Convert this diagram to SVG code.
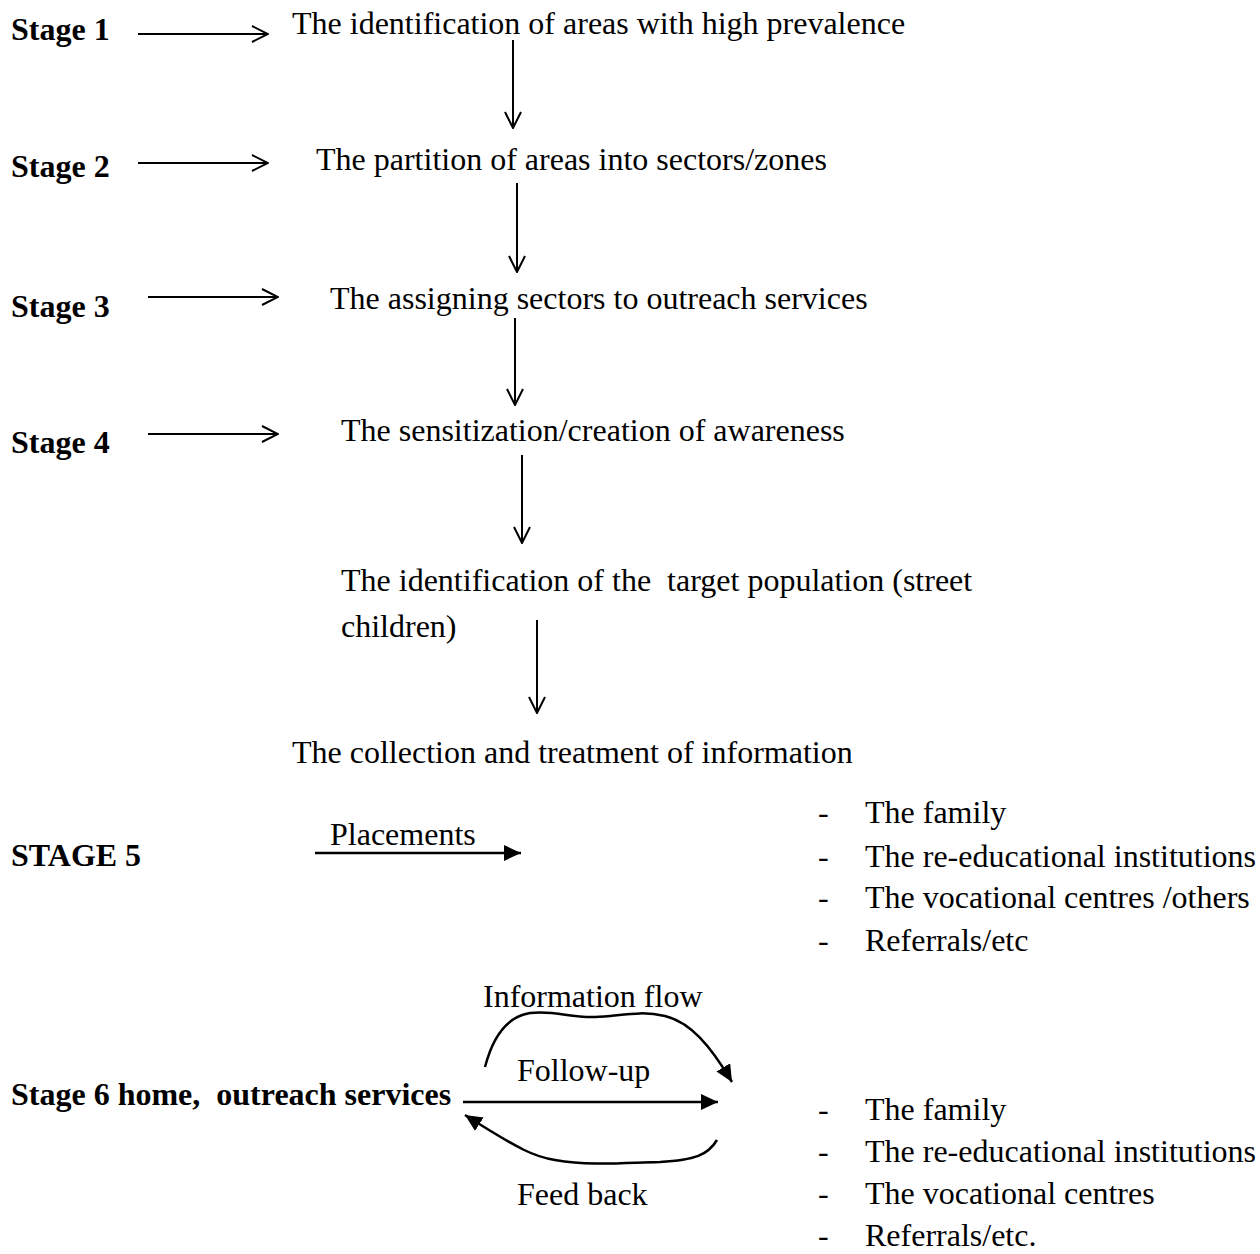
<svg xmlns="http://www.w3.org/2000/svg" width="1260" height="1254" viewBox="0 0 1260 1254">
<defs>
<marker id="open" viewBox="0 0 18 18" refX="17" refY="9" markerWidth="18" markerHeight="18" markerUnits="userSpaceOnUse" orient="auto">
<path d="M1,1 L17,9 L1,17" fill="none" stroke="#000" stroke-width="2"/>
</marker>
<marker id="fill" viewBox="0 0 17 16" refX="17" refY="8" markerWidth="17" markerHeight="16" markerUnits="userSpaceOnUse" orient="auto">
<path d="M0,0 L17,8 L0,16 Z" fill="#000"/>
</marker>
</defs>
<style>
text{font-family:"Liberation Serif","Times New Roman",serif;font-size:32px;fill:#000;white-space:pre}
.b{font-weight:bold}
.o{stroke:#000;stroke-width:2;fill:none;marker-end:url(#open)}
.f{stroke:#000;stroke-width:2.5;fill:none;marker-end:url(#fill)}
</style>
<rect width="1260" height="1254" fill="#fff"/>
<g id="labels">
<text class="b" x="11" y="40">Stage 1</text>
<text class="b" x="11" y="177">Stage 2</text>
<text class="b" x="11" y="317">Stage 3</text>
<text class="b" x="11" y="453">Stage 4</text>
<text class="b" x="11" y="866">STAGE 5</text>
<text class="b" x="11" y="1105">Stage 6 home,  outreach services</text>
</g>
<g id="n1"><text x="292" y="34">The identification of areas with high prevalence</text></g>
<g id="n2"><text x="316" y="170">The partition of areas into sectors/zones</text></g>
<g id="n3"><text x="330" y="309">The assigning sectors to outreach services</text></g>
<g id="n4"><text x="341" y="441">The sensitization/creation of awareness</text></g>
<g id="n5"><text x="341" y="591">The identification of the  target population (street</text><text x="341" y="637">children)</text></g>
<g id="n6"><text x="292" y="763">The collection and treatment of information</text></g>
<g id="list1">
<text x="818" y="823">-</text><text x="865" y="823">The family</text>
<text x="818" y="867">-</text><text x="865" y="867">The re-educational institutions</text>
<text x="818" y="908">-</text><text x="865" y="908">The vocational centres /others</text>
<text x="818" y="951">-</text><text x="865" y="951">Referrals/etc</text>
</g>
<g id="list2">
<text x="818" y="1120">-</text><text x="865" y="1120">The family</text>
<text x="818" y="1162">-</text><text x="865" y="1162">The re-educational institutions</text>
<text x="818" y="1204">-</text><text x="865" y="1204">The vocational centres</text>
<text x="818" y="1246">-</text><text x="865" y="1246">Referrals/etc.</text>
</g>
<g id="edge-labels">
<text x="330" y="845">Placements</text>
<text x="483" y="1007">Information flow</text>
<text x="517" y="1081">Follow-up</text>
<text x="517" y="1205">Feed back</text>
</g>
<g id="connectors">
<line class="o" x1="138" y1="34" x2="268" y2="34"/>
<line class="o" x1="138" y1="163" x2="268" y2="163"/>
<line class="o" x1="148" y1="297" x2="278" y2="297"/>
<line class="o" x1="148" y1="434" x2="278" y2="434"/>
<line class="o" x1="513" y1="40" x2="513" y2="128"/>
<line class="o" x1="517" y1="183" x2="517" y2="272"/>
<line class="o" x1="515" y1="318" x2="515" y2="405"/>
<line class="o" x1="522" y1="455" x2="522" y2="543"/>
<line class="o" x1="537" y1="620" x2="537" y2="713"/>
<line class="f" x1="315" y1="853" x2="521" y2="853"/>
<line class="f" x1="463" y1="1102" x2="718" y2="1102"/>
<path class="f" d="M485,1067 C492,1040 505,1017 530,1013 C555,1010 570,1018 595,1017 C620,1016 640,1010 665,1016 C690,1022 710,1045 732,1082"/>
<path class="f" d="M717,1140 C708,1155 695,1160 660,1162 C620,1163 590,1166 555,1160 C535,1157 520,1150 465,1115"/>
</g>
</svg>
